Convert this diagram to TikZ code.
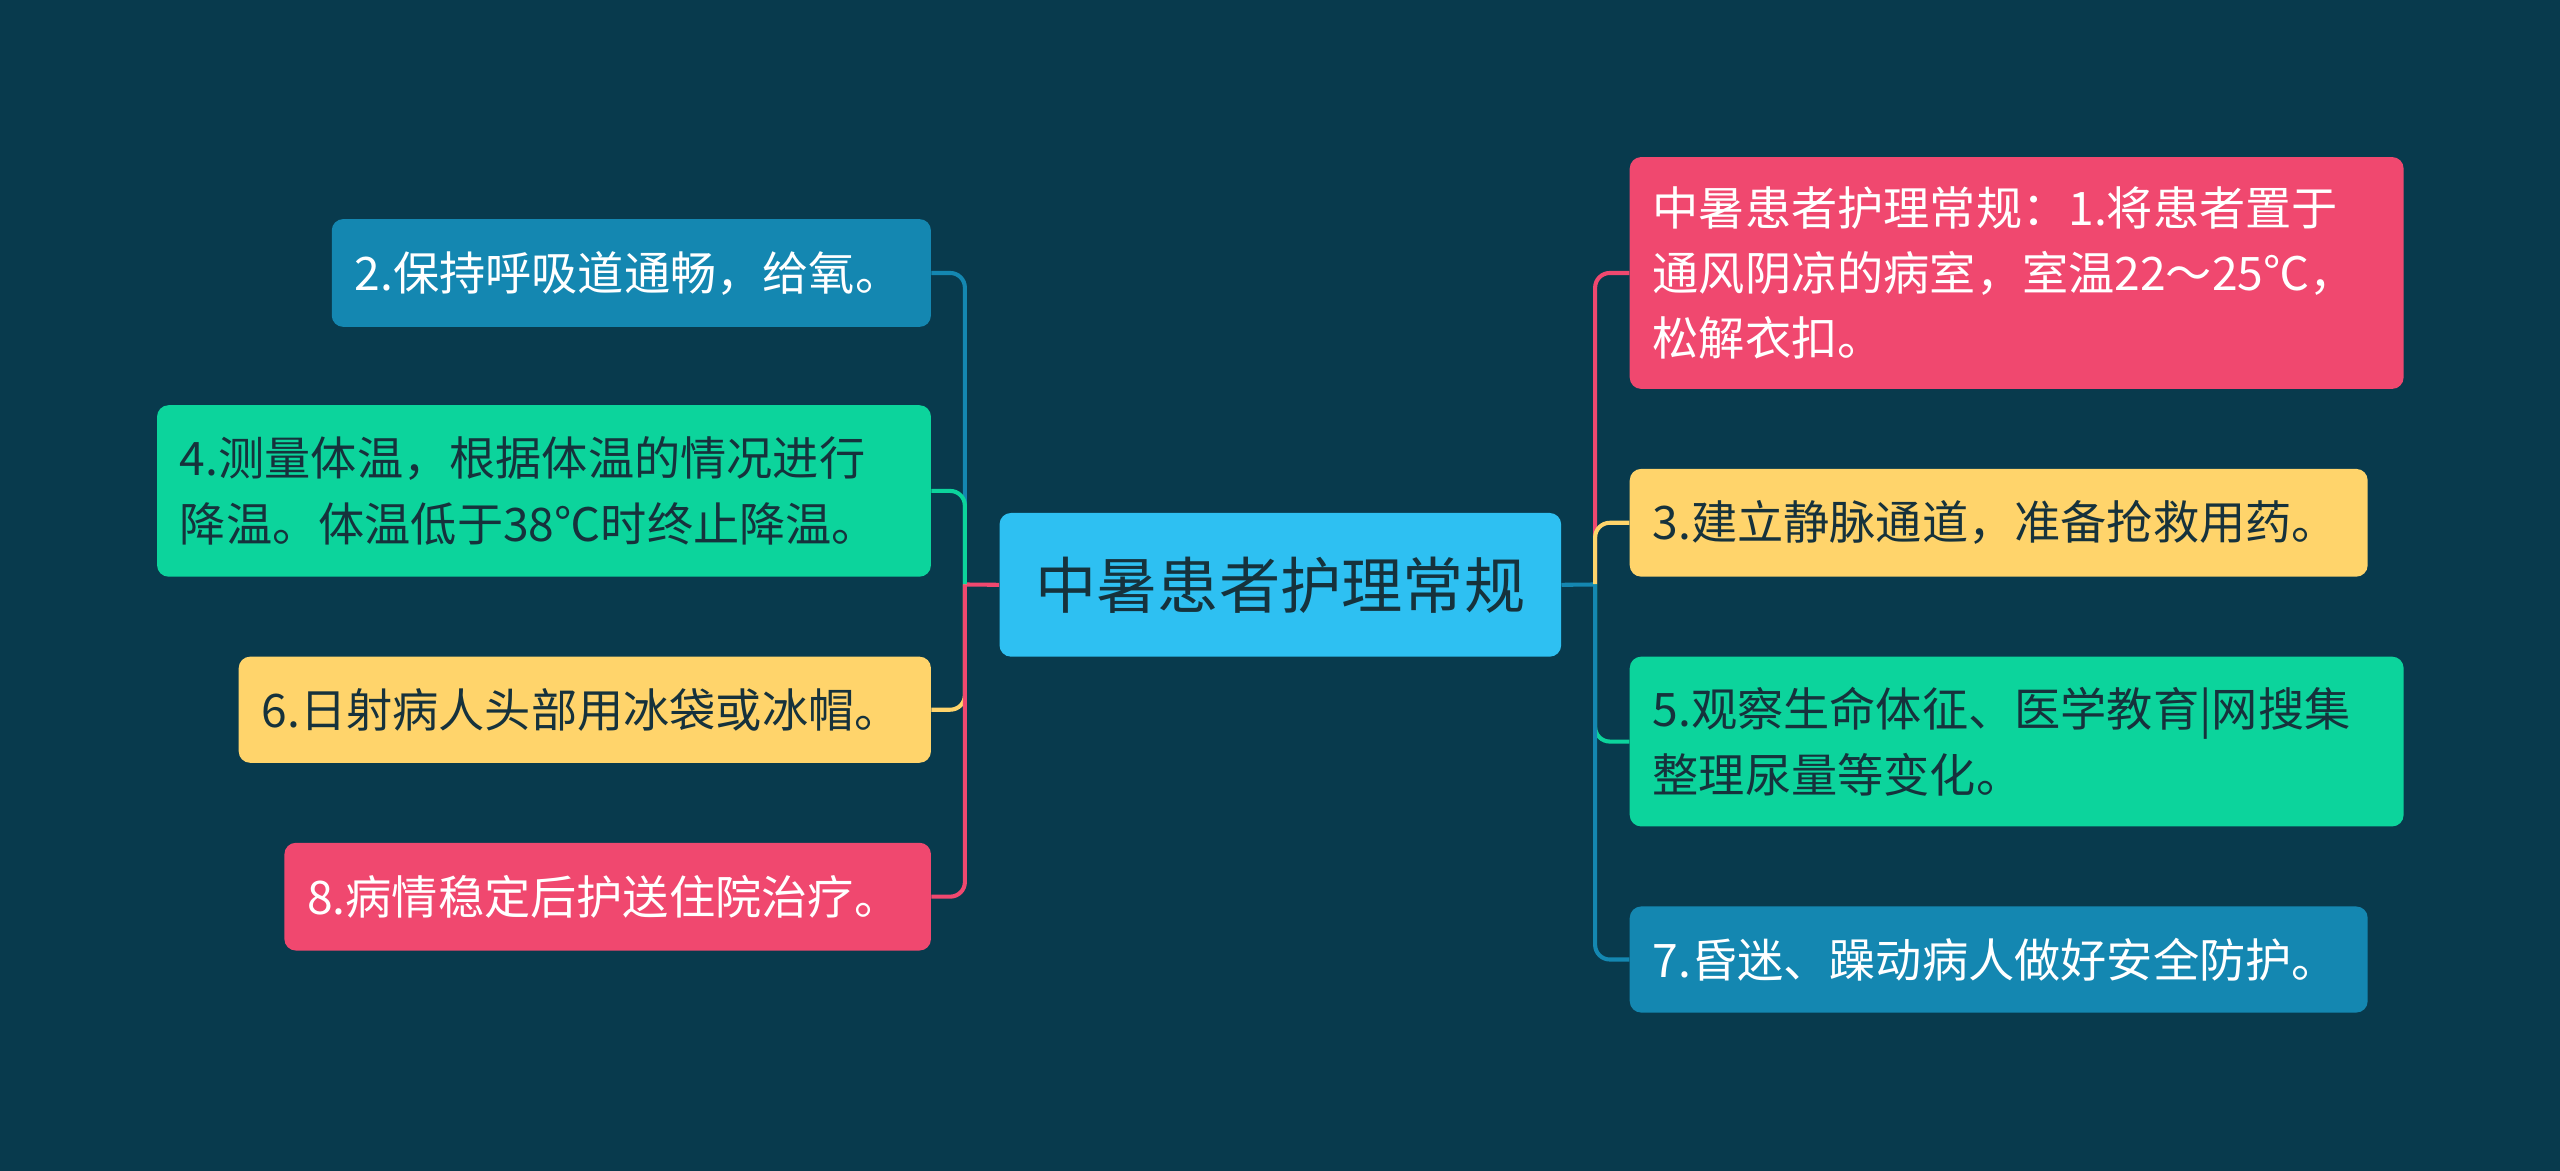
\documentclass[tikz,border=0pt]{standalone}
\usepackage{fontspec}
\newfontfamily\cjk{Noto Sans CJK SC}
\definecolor{bg}{HTML}{083A4D}
\definecolor{cblue}{HTML}{2EC0F2}
\definecolor{dblue}{HTML}{1487B1}
\definecolor{grn}{HTML}{0CD49C}
\definecolor{yel}{HTML}{FFD46B}
\definecolor{pnk}{HTML}{F0486F}
\definecolor{dk}{HTML}{16323C}
\begin{document}
\begin{tikzpicture}[x=1pt,y=-1pt,
 box/.style={rounded corners=7pt,inner xsep=14pt,inner ysep=0pt,align=left,font=\cjk\fontsize{28.3}{40}\selectfont,anchor=north west},
 con/.style={line width=2.5pt,rounded corners=9pt}]
\fill[bg] (0,0) rectangle (1568,717);
\useasboundingbox (0,0) rectangle (1568,717);
\node[box,fill=cblue,text=dk,font=\cjk\fontsize{37.5}{40}\selectfont,minimum width=344,minimum height=88,text width=316,align=center] (c) at (612,314) {中暑患者护理常规};
\node[box,fill=dblue,text=white,minimum width=367,minimum height=66,text width=339] (l1) at (203,134) {2.保持呼吸道通畅，给氧。};
\node[box,fill=grn,text=dk,minimum width=474,minimum height=105,text width=446] (l2) at (96,248) {4.测量体温，根据体温的情况进行\\降温。体温低于38℃时终止降温。};
\node[box,fill=yel,text=dk,minimum width=424,minimum height=65,text width=396] (l3) at (146,402) {6.日射病人头部用冰袋或冰帽。};
\node[box,fill=pnk,text=white,minimum width=396,minimum height=66,text width=368] (l4) at (174,516) {8.病情稳定后护送住院治疗。};
\node[box,fill=pnk,text=white,minimum width=474,minimum height=142,text width=446] (r1) at (998,96) {中暑患者护理常规：1.将患者置于\\通风阴凉的病室，室温22～25℃，\\松解衣扣。};
\node[box,fill=yel,text=dk,minimum width=452,minimum height=66,text width=424] (r2) at (998,287) {3.建立静脉通道，准备抢救用药。};
\node[box,fill=grn,text=dk,minimum width=474,minimum height=104,text width=446] (r3) at (998,402) {5.观察生命体征、医学教育|网搜集\\整理尿量等变化。};
\node[box,fill=dblue,text=white,minimum width=452,minimum height=65,text width=424] (r4) at (998,555) {7.昏迷、躁动病人做好安全防护。};
\coordinate (lj) at (591,358);
\coordinate (rj) at (977,358);
\draw[con,pnk] (c.west) -- (lj);
\draw[con,dblue] (c.east) -- (rj);
\draw[con,dblue] (lj) |- (l1.east);
\draw[con,grn] (lj) |- (l2.east);
\draw[con,yel] (lj) |- (l3.east);
\draw[con,pnk] (lj) |- (l4.east);
\draw[con,pnk] (rj) |- (r1.west);
\draw[con,yel] (rj) |- (r2.west);
\draw[con,grn] (rj) |- (r3.west);
\draw[con,dblue] (rj) |- (r4.west);
\end{tikzpicture}
\end{document}
